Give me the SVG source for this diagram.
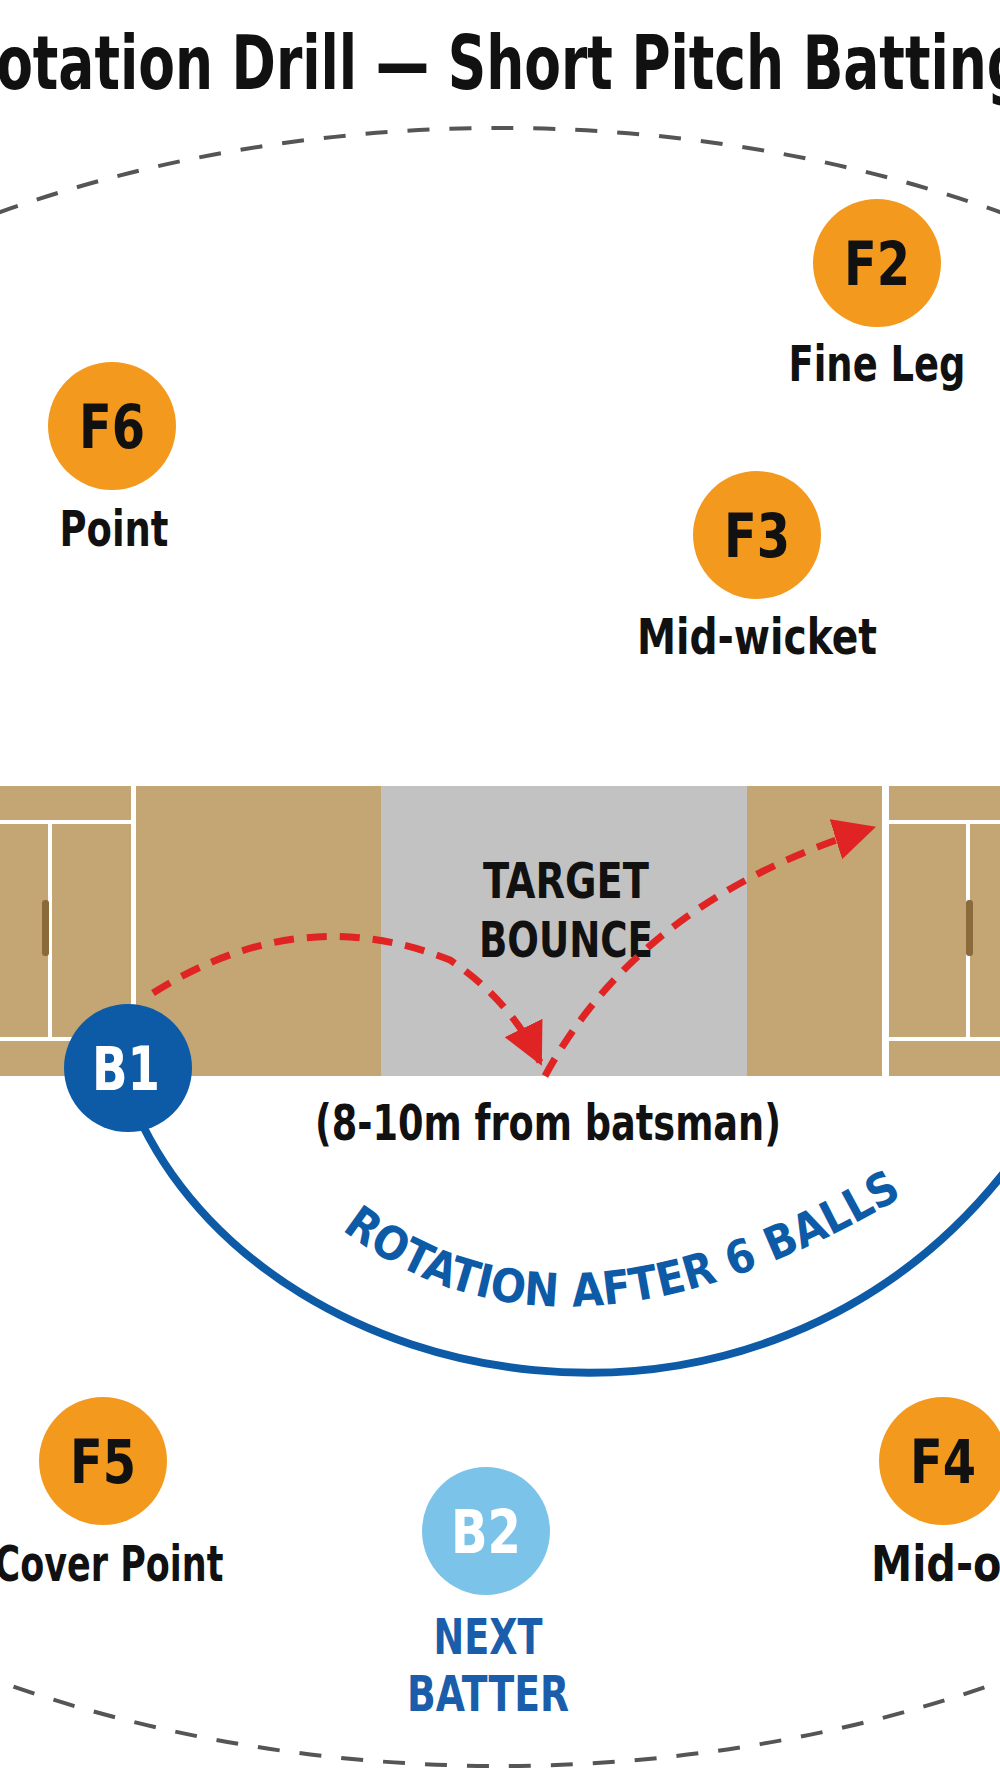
<svg xmlns="http://www.w3.org/2000/svg" width="1000" height="1792" viewBox="0 0 1000 1792">
<defs>
<style>
text{font-family:"Liberation Sans Narrow","DejaVu Sans Condensed","Liberation Sans",sans-serif;font-weight:bold;text-anchor:middle}
.f{fill:#F39A1E}
.fl{font-size:60px;fill:#111}
.lab{font-size:50px;fill:#111}
.tan{fill:#C4A574}
.wl{stroke:#fff;stroke-width:4;fill:none}
.red{stroke:#E02424;stroke-width:7;fill:none;stroke-dasharray:20 13}
</style>
<marker id="ah" viewBox="0 0 10 10" refX="9" refY="5" markerWidth="6" markerHeight="6" markerUnits="strokeWidth" orient="auto"><path d="M0,0 L10,5 L0,10 Z" fill="#E02424"/></marker>
</defs>
<rect width="1000" height="1792" fill="#fff"/>
<text x="490" y="89" font-size="74" fill="#111" textLength="1070" lengthAdjust="spacingAndGlyphs">Rotation Drill — Short Pitch Batting</text>
<ellipse cx="500" cy="947" rx="1133" ry="819" fill="none" stroke="#555" stroke-width="4" stroke-dasharray="22 20"/>
<g id="pitch">
<rect x="0" y="786" width="1000" height="290" class="tan"/>
<rect x="381" y="786" width="366" height="290" fill="#C2C2C2"/>
<rect x="131" y="786" width="5" height="290" fill="#fff"/>
<rect x="882" y="786" width="7" height="290" fill="#fff"/>
<path class="wl" d="M0 822H131M0 1039H131M50 822V1039M889 822H1000M889 1039H1000M968 822V1039"/>
<g fill="#8a6a3a"><rect x="42" y="900" width="7" height="56" rx="3"/><rect x="966" y="900" width="7" height="56" rx="3"/></g>
<text x="566" y="898" font-size="50" fill="#111" textLength="166" lengthAdjust="spacingAndGlyphs">TARGET</text>
<text x="566" y="957" font-size="50" fill="#111" textLength="174" lengthAdjust="spacingAndGlyphs">BOUNCE</text>
<text x="548" y="1140" font-size="50" fill="#111" textLength="466" lengthAdjust="spacingAndGlyphs">(8-10m from batsman)</text>
</g>
<g id="connectors">
<path class="red" d="M153 993 Q 300 900 450 960 Q 510 1000 540 1062" marker-end="url(#ah)"/>
<path class="red" d="M545 1076 Q 640 900 872 828" marker-end="url(#ah)"/>
<path d="M143 1126 C 280 1400, 760 1490, 1010 1165" fill="none" stroke="#0D5AA7" stroke-width="8"/>
<path id="tp" d="M340 1228 Q 560 1400 905 1195" fill="none"/>
<text font-size="46" fill="#0D5AA7"><textPath href="#tp" startOffset="50%">ROTATION AFTER 6 BALLS</textPath></text>
</g>
<g id="B1"><circle cx="128" cy="1068" r="64" fill="#0D5AA7"/><text x="126" y="1090" font-size="60" fill="#fff" textLength="68" lengthAdjust="spacingAndGlyphs">B1</text></g>
<g id="F2"><circle cx="877" cy="263" r="64" class="f"/><text x="877" y="285" class="fl" textLength="66" lengthAdjust="spacingAndGlyphs">F2</text><text x="877" y="381" class="lab" textLength="177" lengthAdjust="spacingAndGlyphs">Fine Leg</text></g>
<g id="F6"><circle cx="112" cy="426" r="64" class="f"/><text x="112" y="448" class="fl" textLength="66" lengthAdjust="spacingAndGlyphs">F6</text><text x="114" y="546" class="lab" textLength="109" lengthAdjust="spacingAndGlyphs">Point</text></g>
<g id="F3"><circle cx="757" cy="535" r="64" class="f"/><text x="757" y="557" class="fl" textLength="66" lengthAdjust="spacingAndGlyphs">F3</text><text x="757" y="654" class="lab" textLength="240" lengthAdjust="spacingAndGlyphs">Mid-wicket</text></g>
<g id="F5"><circle cx="103" cy="1461" r="64" class="f"/><text x="103" y="1483" class="fl" textLength="66" lengthAdjust="spacingAndGlyphs">F5</text><text x="109" y="1581" class="lab" textLength="229" lengthAdjust="spacingAndGlyphs">Cover Point</text></g>
<g id="F4"><circle cx="943" cy="1461" r="64" class="f"/><text x="943" y="1483" class="fl" textLength="66" lengthAdjust="spacingAndGlyphs">F4</text><text x="951" y="1581" class="lab" textLength="160" lengthAdjust="spacingAndGlyphs">Mid-on</text></g>
<g id="B2"><circle cx="486" cy="1531" r="64" fill="#7CC3EA"/><text x="486" y="1553" font-size="60" fill="#fff" textLength="70" lengthAdjust="spacingAndGlyphs">B2</text><text x="488" y="1654" font-size="50" fill="#1A5DAA" textLength="109" lengthAdjust="spacingAndGlyphs">NEXT</text><text x="488" y="1711" font-size="50" fill="#1A5DAA" textLength="162" lengthAdjust="spacingAndGlyphs">BATTER</text></g>
</svg>
